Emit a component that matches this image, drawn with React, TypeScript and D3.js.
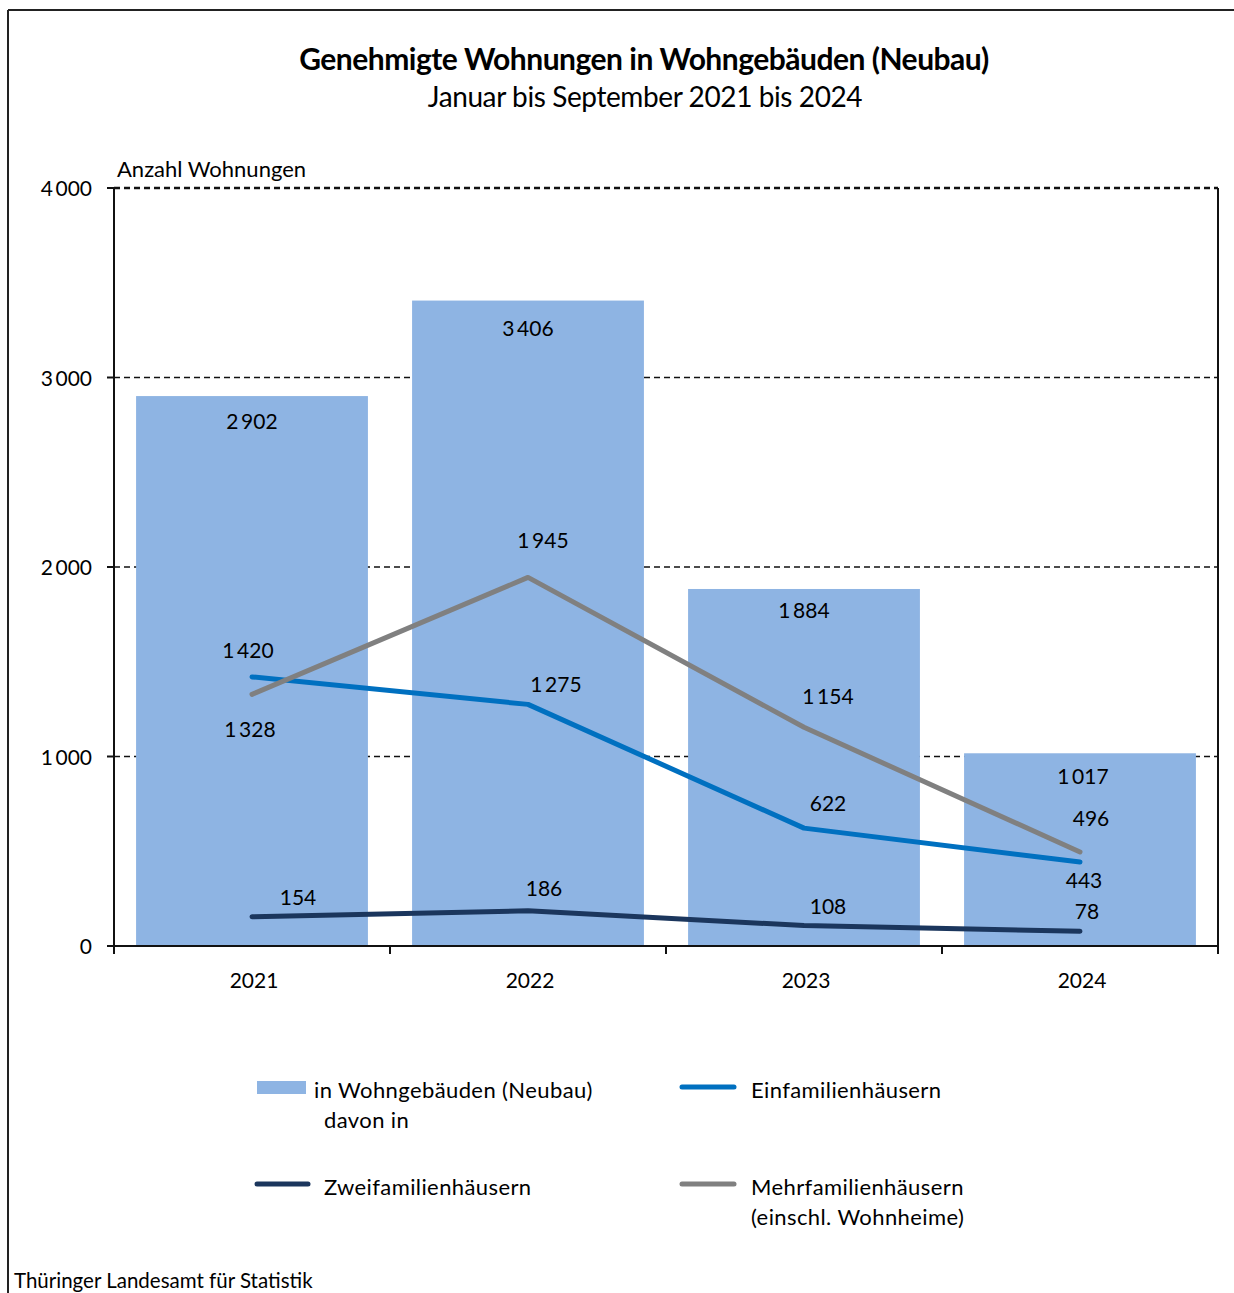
import React from 'react';
import * as d3 from 'd3';

const years = ['2021', '2022', '2023', '2024'];
const total = [2902, 3406, 1884, 1017];
const einfamilien = [1420, 1275, 622, 443];
const zweifamilien = [154, 186, 108, 78];
const mehrfamilien = [1328, 1945, 1154, 496];
const yTicks = [0, 1000, 2000, 3000, 4000];

const W = 1234;
const H = 1293;
const margin = { left: 114, right: 1218, top: 188, bottom: 946 };
const FONT = 'Lato, "Open Sans", sans-serif';

const fmt = (v: number) => {
  const s = String(v);
  return s.length > 3 ? s.slice(0, s.length - 3) + '\u2009' + s.slice(-3) : s;
};

// label offsets [dx, dy] from the data point (baseline)
const einOffsets = [[-4, -19], [28, -12], [24, -17], [4, 26]];
const zweiOffsets = [[46, -12], [16, -15], [24, -12], [7, -12]];
const mehrOffsets = [[-2, 43], [15, -29], [24, -23], [11, -26]];
const barOffsets = [33, 35, 29, 31];

const App: React.FC = () => {
  const x = d3.scaleBand<string>().domain(years).range([margin.left, margin.right]).paddingInner(0.16).paddingOuter(0.08);
  const xb = d3.scaleBand<string>().domain(years).range([margin.left, margin.right]);
  const y = d3.scaleLinear().domain([0, 4000]).range([margin.bottom, margin.top]);
  const cx = (i: number) => (xb(years[i]) as number) + xb.bandwidth() / 2;

  const line = d3.line<number>().x((_, i) => cx(i)).y(d => y(d));

  const series = [
    { data: einfamilien, color: '#0070C0', off: einOffsets },
    { data: zweifamilien, color: '#1B365D', off: zweiOffsets },
    { data: mehrfamilien, color: '#808080', off: mehrOffsets },
  ];

  const ticksX = years.map(yr => xb(yr) as number).concat([margin.right]);

  return (
    <svg width={W} height={H} style={{ position: 'absolute', left: 0, top: 0, background: '#fff' }} fontFamily={FONT}>
      {/* outer frame */}
      <line x1={8} x2={W} y1={10} y2={10} stroke="#222" strokeWidth={2} />
      <line x1={8} x2={8} y1={10} y2={H} stroke="#222" strokeWidth={2} />

      <text x={644} y={70} textAnchor="middle" fontSize={30} fontWeight="bold" letterSpacing={-0.5}>Genehmigte Wohnungen in Wohngebäuden (Neubau)</text>
      <text x={645} y={107} textAnchor="middle" fontSize={28} letterSpacing={-0.4}>Januar bis September 2021 bis 2024</text>
      <text x={117} y={177} fontSize={22}>Anzahl Wohnungen</text>

      {/* gridlines */}
      {yTicks.filter(t => t > 0).map(t => (
        <line key={t} x1={margin.left} x2={margin.right} y1={y(t)} y2={y(t)} stroke="#111" strokeWidth={t === 4000 ? 2.5 : 1.5} strokeDasharray="6,4" />
      ))}

      {/* bars */}
      {total.map((v, i) => (
        <g key={i}>
          <rect x={x(years[i])} y={y(v)} width={x.bandwidth()} height={y(0) - y(v)} fill="#8EB4E3" />
          <text x={cx(i) + (i === 3 ? 3 : 0)} y={y(v) + barOffsets[i]} textAnchor="middle" fontSize={21}>{fmt(v)}</text>
        </g>
      ))}

      {/* lines */}
      {series.map((s, k) => (
        <g key={k}>
          <path d={line(s.data) as string} fill="none" stroke={s.color} strokeWidth={5} strokeLinecap="round" strokeLinejoin="round" />
          {s.data.map((v, i) => (
            <text key={i} x={cx(i) + s.off[i][0]} y={y(v) + s.off[i][1]} textAnchor="middle" fontSize={21}>{fmt(v)}</text>
          ))}
        </g>
      ))}

      {/* axes */}
      <line x1={margin.left} x2={margin.left} y1={margin.top} y2={margin.bottom} stroke="#111" strokeWidth={2} />
      <line x1={margin.right} x2={margin.right} y1={margin.top} y2={margin.bottom} stroke="#111" strokeWidth={2} />
      <line x1={margin.left - 7} x2={margin.right} y1={margin.bottom} y2={margin.bottom} stroke="#111" strokeWidth={2} />
      {yTicks.map(t => (
        <g key={t}>
          <line x1={margin.left - 7} x2={margin.left} y1={y(t)} y2={y(t)} stroke="#111" strokeWidth={2} />
          <text x={92} y={y(t) + 8} textAnchor="end" fontSize={21}>{fmt(t)}</text>
        </g>
      ))}
      {ticksX.map((tx, i) => (
        <line key={i} x1={tx} x2={tx} y1={margin.bottom} y2={margin.bottom + 8} stroke="#111" strokeWidth={2} />
      ))}
      {years.map((yr, i) => (
        <text key={yr} x={cx(i) + 2} y={988} textAnchor="middle" fontSize={21}>{yr}</text>
      ))}

      {/* legend */}
      <g fontSize={22} letterSpacing={0.4}>
        <rect x={257} y={1081} width={49} height={13} fill="#8EB4E3" />
        <text x={314} y={1098}>in Wohngebäuden (Neubau)</text>
        <text x={324} y={1128}>davon in</text>
        <line x1={682} x2={734} y1={1087} y2={1087} stroke="#0070C0" strokeWidth={5} strokeLinecap="round" />
        <text x={751} y={1098}>Einfamilienhäusern</text>
        <line x1={257} x2={308} y1={1184} y2={1184} stroke="#1B365D" strokeWidth={5} strokeLinecap="round" />
        <text x={324} y={1195}>Zweifamilienhäusern</text>
        <line x1={682} x2={734} y1={1184} y2={1184} stroke="#808080" strokeWidth={5} strokeLinecap="round" />
        <text x={751} y={1195}>Mehrfamilienhäusern</text>
        <text x={751} y={1225}>(einschl. Wohnheime)</text>
      </g>

      <text x={14} y={1288} fontSize={20.5}>Thüringer Landesamt für Statistik</text>
    </svg>
  );
};

export default App;
